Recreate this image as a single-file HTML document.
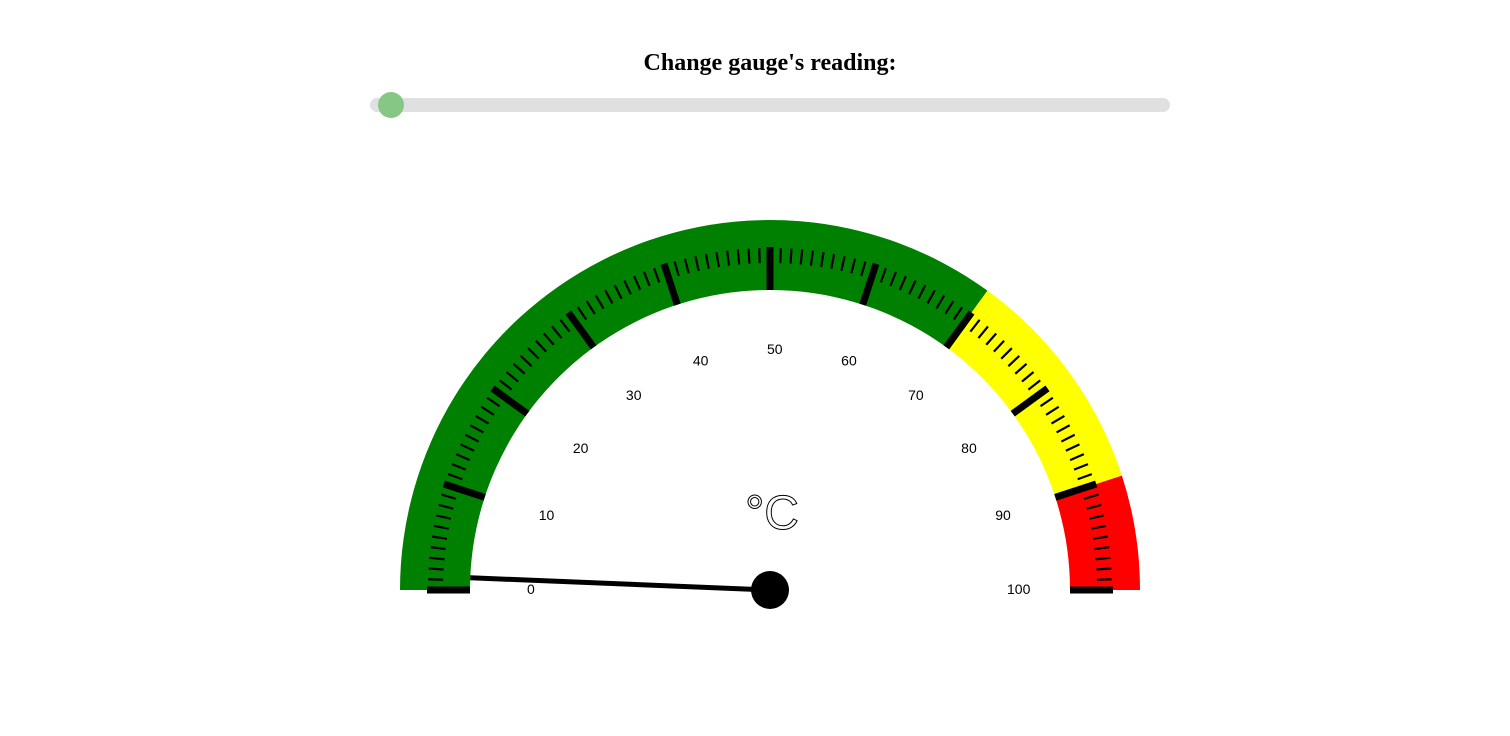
<!DOCTYPE html>
<html><head><meta charset="utf-8"><style>
html,body{margin:0;padding:0;background:#fff;width:1510px;height:736px;overflow:hidden}
#title{position:absolute;left:0;width:1540px;top:50px;text-align:center;font:bold 24px "Liberation Serif",serif;color:#000}
#track{position:absolute;left:370px;top:98px;width:800px;height:14px;background:#e0e0e0;border-radius:7px}
#thumb{position:absolute;left:378px;top:92px;width:26px;height:26px;border-radius:50%;background:#86c786}
svg{position:absolute;left:0;top:0}
</style></head><body>
<div id="title">Change gauge's reading:</div>
<div id="track"></div>
<div id="thumb"></div>
<svg id="g" width="1510" height="736"></svg>
<script>
const bandStarts=[0,70,90];
const bandEnds=[70,90,100];
const bandColors=["#008000","#ffff00","#ff0000"];
const tickLabels=[0,10,20,30,40,50,60,70,80,90,100];
const reading=1.3;
const NS="http://www.w3.org/2000/svg",svg=document.getElementById('g');
const cx=770,cy=590,R0=300,R1=370;
function ang(v){return Math.PI*(1-v/100);}
function pt(v,r){const a=ang(v);return [cx+r*Math.cos(a),cy-r*Math.sin(a)];}
function mk(t,at){const e=document.createElementNS(NS,t);for(const k in at)e.setAttribute(k,at[k]);svg.appendChild(e);return e;}
bandStarts.forEach((s,i)=>{const e=bandEnds[i];
const [x1,y1]=pt(s,R1),[x2,y2]=pt(e,R1),[x3,y3]=pt(e,R0),[x4,y4]=pt(s,R0);
const p=mk('path',{d:`M${x1},${y1}A${R1},${R1} 0 0 1 ${x2},${y2}L${x3},${y3}A${R0},${R0} 0 0 0 ${x4},${y4}Z`,fill:bandColors[i]});

});
for(let v=0;v<=100;v++){const major=v%10===0;
const [a,b]=pt(v,major?300:327),[c,d]=pt(v,major?343:342);
const l=mk('line',{x1:a,y1:b,x2:c,y2:d,stroke:'#000','stroke-width':major?7:2.2});

}
tickLabels.forEach(v=>{const [x,y]=pt(v,240);
const t=mk('text',{x:x-3,y:y+4,'text-anchor':'start','font-family':'Liberation Sans,sans-serif','font-size':14,fill:'#000'});
t.textContent=v;

});
const u=mk('text',{x:772,y:529,'text-anchor':'middle','font-family':'Liberation Sans,sans-serif','font-size':48,fill:'#fff',stroke:'#000','stroke-width':1});
u.textContent='°C';


const [nx,ny]=pt(reading,300);
const n=mk('line',{x1:cx,y1:cy,x2:nx,y2:ny,stroke:'#000','stroke-width':5});


const h=mk('circle',{cx:cx,cy:cy,r:19,fill:'#000'});


</script>
</body></html>
